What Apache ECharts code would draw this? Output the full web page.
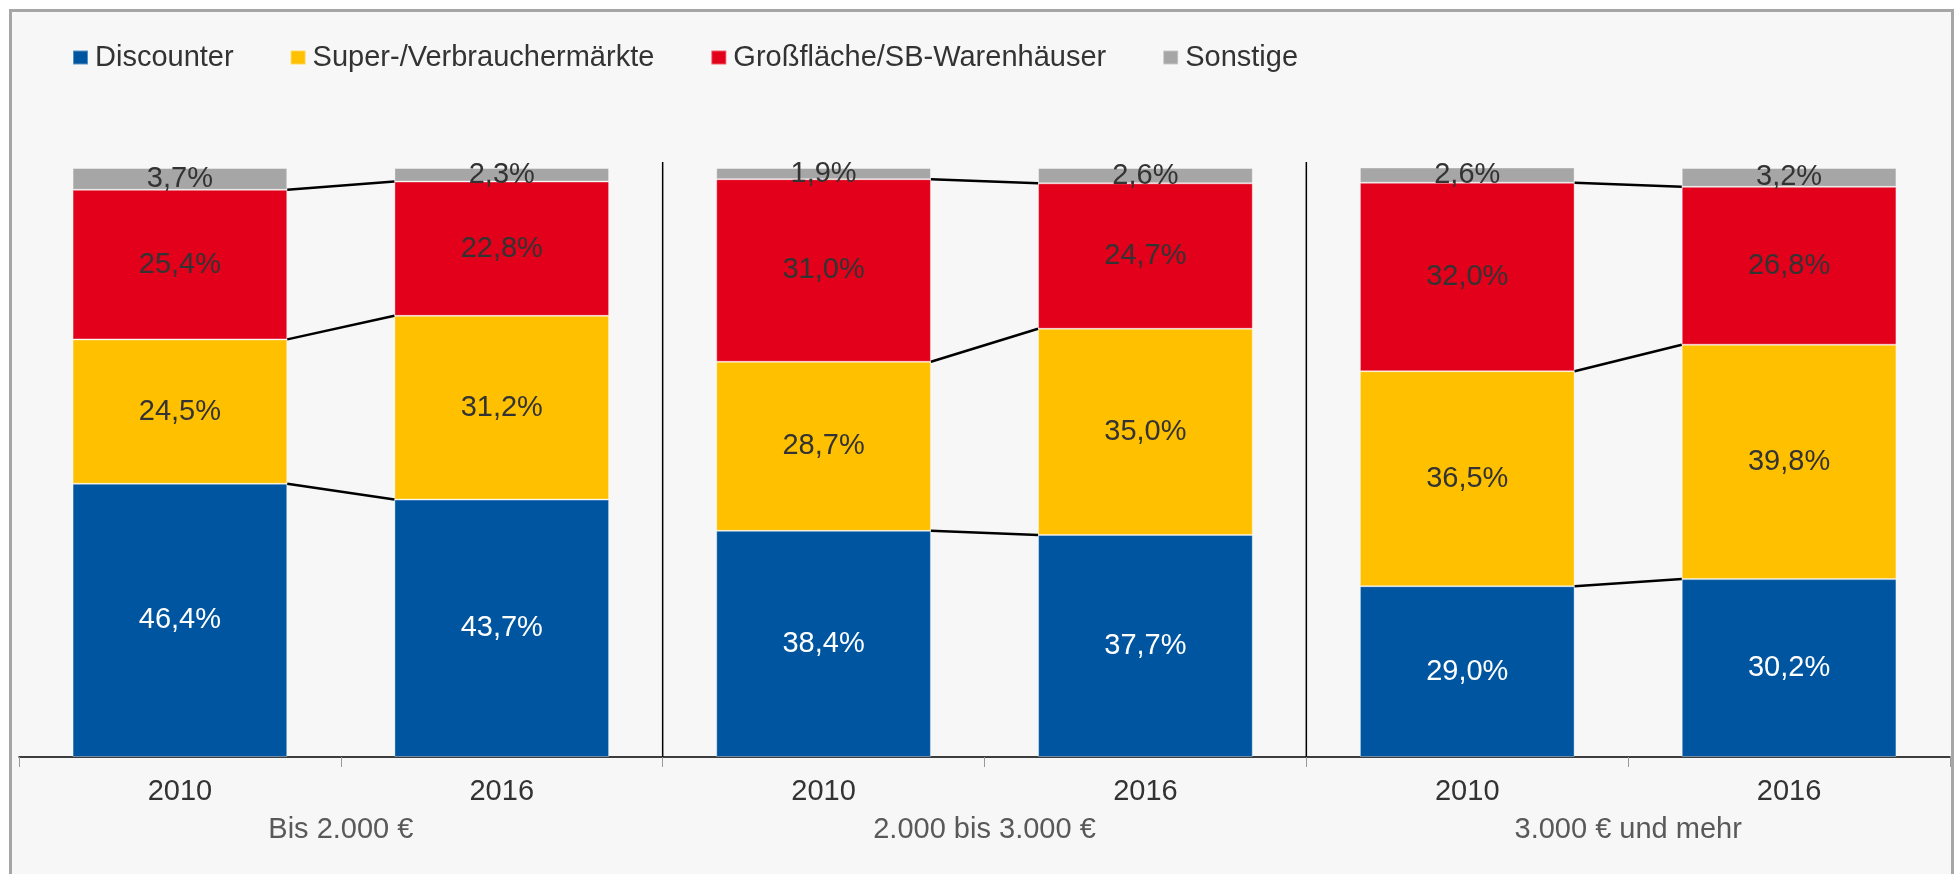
<!DOCTYPE html>
<html>
<head>
<meta charset="utf-8">
<script src="https://cdn.jsdelivr.net/npm/echarts@6/dist/echarts.min.js"></script>
<style>
  html, body { margin: 0; padding: 0; background: #fff; overflow: hidden; }
  #frame {
    position: absolute; left: 9px; top: 9px; width: 1945px; height: 900px;
    box-sizing: border-box; border: 3px solid #a6a6a6; border-bottom: none;
    background: #f7f7f7;
  }
  #chart { position: absolute; left: 0; top: 0; width: 1954px; height: 874px; }
</style>
</head>
<body>
<div id="frame"></div>
<div id="chart"></div>
<script>
// categories
const years = ['2010', '2016', '2010', '2016', '2010', '2016']
const groups = ['Bis 2.000 €', '2.000 bis 3.000 €', '3.000 € und mehr']

// series values (percent)
const discounter = [46.4, 43.7, 38.4, 37.7, 29.0, 30.2]
const superMaerkte = [24.5, 31.2, 28.7, 35.0, 36.5, 39.8]
const grossflaeche = [25.4, 22.8, 31.0, 24.7, 32.0, 26.8]
const sonstige = [3.7, 2.3, 1.9, 2.6, 2.6, 3.2]

const seriesNames = ['Discounter', 'Super-/Verbrauchermärkte', 'Großfläche/SB-Warenhäuser', 'Sonstige']
const seriesData = [discounter, superMaerkte, grossflaeche, sonstige]
const colors = ['#0055a0', '#ffc000', '#e2001a', '#a6a6a6']
const labelColors = ['#ffffff', '#333333', '#333333', '#333333']

const FONT = 'Liberation Sans, Arial, sans-serif'
const BAR_RATIO = 0.667

const fmt = (v) => v.toFixed(1).replace('.', ',') + '%'

const cumulative = (idx, level) => {
  let s = 0
  for (let k = 0; k <= level; k++) s += seriesData[k][idx]
  return s
}

const barSeries = seriesData.map((data, i) => ({
  name: seriesNames[i],
  type: 'bar',
  stack: 'total',
  barWidth: (BAR_RATIO * 100) + '%',
  itemStyle: { color: colors[i], borderColor: 'rgba(255,255,255,0.35)', borderWidth: 1 },
  label: {
    show: true,
    position: 'inside',
    color: labelColors[i],
    fontFamily: FONT,
    fontSize: 29,
    formatter: (p) => fmt(p.value)
  },
  data: data
}))

// connector lines between bars of a group and group separators
const connectors = {
  type: 'custom',
  silent: true,
  z: 5,
  data: groups.map((g, i) => [2 * i, 0]),
  renderItem: (params, api) => {
    const g = params.dataIndex
    const a = 2 * g
    const b = a + 1
    const band = api.size([1, 0])[0]
    const half = band * BAR_RATIO / 2
    const children = []
    for (let level = 0; level < 3; level++) {
      const p1 = api.coord([a, cumulative(a, level)])
      const p2 = api.coord([b, cumulative(b, level)])
      children.push({
        type: 'line',
        shape: { x1: p1[0] + half, y1: p1[1], x2: p2[0] - half, y2: p2[1] },
        style: { stroke: '#000', lineWidth: 2.5 }
      })
    }
    if (g > 0) {
      const top = api.coord([a, 101])
      const bottom = api.coord([a, 0])
      const x = top[0] - band / 2
      children.push({
        type: 'line',
        shape: { x1: x, y1: top[1], x2: x, y2: bottom[1] },
        style: { stroke: '#000', lineWidth: 1.5 }
      })
    }
    return { type: 'group', children }
  }
}

const chart = echarts.init(document.getElementById('chart'))
chart.setOption({
  backgroundColor: 'transparent',
  animation: false,
  legend: {
    data: seriesNames,
    left: 67,
    top: 38,
    itemWidth: 15,
    itemHeight: 14,
    itemGap: 56,
    icon: 'rect',
    textStyle: { color: '#333', fontFamily: FONT, fontSize: 29, padding: [0, 0, 0, 2] }
  },
  grid: { left: 19, right: 4, top: 168, bottom: 117, containLabel: false },
  xAxis: [
    {
      type: 'category',
      data: years,
      axisLine: { lineStyle: { color: '#000', width: 1.5 } },
      axisTick: { show: true, length: 10, lineStyle: { color: '#999' } },
      axisLabel: { color: '#333', fontFamily: FONT, fontSize: 29, margin: 20 }
    },
    {
      type: 'category',
      position: 'bottom',
      data: groups,
      axisLine: { show: false },
      axisTick: { show: false },
      axisLabel: { color: '#595959', fontFamily: FONT, fontSize: 29, margin: 58 }
    }
  ],
  yAxis: { type: 'value', min: 0, max: 100, show: false },
  series: [...barSeries, connectors]
})
</script>
</body>
</html>
